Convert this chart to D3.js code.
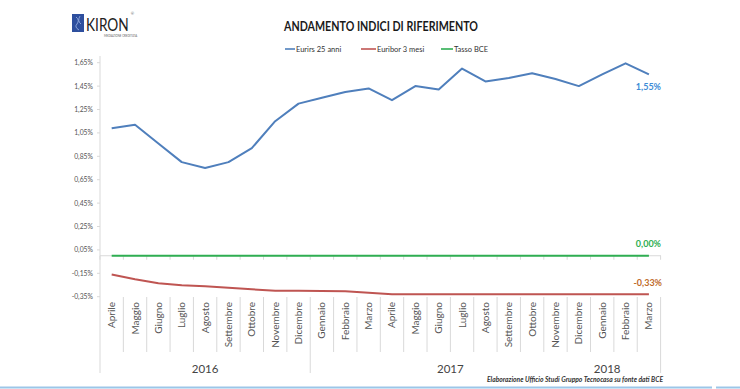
<!DOCTYPE html>
<html><head><meta charset="utf-8">
<script src="https://cdn.jsdelivr.net/npm/d3@7"></script>
<style>body{margin:0;background:#fff}svg{display:block}text{font-family:Lato,"Open Sans",sans-serif}</style>
</head><body><svg id="c" width="740" height="389"></svg>
<script>
const months = ["Aprile","Maggio","Giugno","Luglio","Agosto","Settembre","Ottobre","Novembre","Dicembre","Gennaio","Febbraio","Marzo","Aprile","Maggio","Giugno","Luglio","Agosto","Settembre","Ottobre","Novembre","Dicembre","Gennaio","Febbraio","Marzo"];
const years = ["2016","2017","2018"];
const yearCounts = [9,12,3];
const eurirs = [1.09,1.12,0.96,0.80,0.75,0.80,0.92,1.15,1.30,1.35,1.40,1.43,1.33,1.45,1.42,1.60,1.49,1.52,1.56,1.51,1.45,1.55,1.645,1.55];
const euribor = [-0.16,-0.20,-0.235,-0.253,-0.261,-0.273,-0.287,-0.299,-0.299,-0.301,-0.304,-0.316,-0.33,-0.33,-0.33,-0.33,-0.33,-0.33,-0.33,-0.33,-0.33,-0.33,-0.33,-0.33];
const bce = [0,0,0,0,0,0,0,0,0,0,0,0,0,0,0,0,0,0,0,0,0,0,0,0];
const yTicks = [-0.35,-0.15,0.05,0.25,0.45,0.65,0.85,1.05,1.25,1.45,1.65];
const seriesNames = ["Eurirs 25 anni","Euribor 3 mesi","Tasso BCE"];
const endLabels = ["1,55%","-0,33%","0,00%"];

const svg = d3.select("#c");
const idx = d3.range(months.length);
const x = d3.scaleBand().domain(idx).range([100, 660.6]).padding(0);
const cx = i => x(i) + x.bandwidth()/2;
const y = d3.scaleLinear().domain([-0.35,1.65]).range([296.7,62.7]);
const fmt = v => v.toFixed(2).replace(".",",") + "%";
const grey = "#d9d9d9";

// logo
const logo = svg.append("g");
logo.append("rect").attr("x",72).attr("y",14).attr("width",12).attr("height",18).attr("fill","#2e4f9e");
logo.append("path").attr("d","M76,17 q4,3 1,7 q-3,3 2,6 M80,16 q-3,5 1,8").attr("stroke","#9fb6e6").attr("fill","none").attr("stroke-width",0.8);
const kt = logo.append("text").attr("transform","translate(86,31) scale(0.76,1)").attr("font-size",18).attr("fill","#222")
  .attr("font-family","'DejaVu Sans',sans-serif").text("KIRON");
const kw = kt.node().getComputedTextLength()*0.76;
logo.append("text").attr("x",86+kw+2).attr("y",15).attr("font-size",4).attr("fill","#555").text("®");
logo.append("text").attr("x",104).attr("y",36.5).attr("font-size",2.8).attr("fill","#666").text("MEDIAZIONE CREDITIZIA");

// title
svg.append("text").attr("x",284).attr("y",31).attr("font-size",13.5).attr("font-weight",700).attr("fill","#1a1a1a")
  .attr("textLength",194).attr("lengthAdjust","spacingAndGlyphs").text("ANDAMENTO INDICI DI RIFERIMENTO");

// legend
const colors = ["#4f7fbc","#bf5552","#2fae52"];
const legX = [[285,295],[361,376],[441,453]];
legX.forEach((p,k)=>{
  svg.append("line").attr("x1",p[0]).attr("x2",p[1]).attr("y1",49).attr("y2",49).attr("stroke",colors[k]).attr("stroke-width",1.6);
  svg.append("text").attr("x",p[1]+1).attr("y",51.5).attr("font-size",7.5).attr("fill","#333").text(seriesNames[k]);
});

// y axis
svg.append("line").attr("x1",100).attr("x2",100).attr("y1",56).attr("y2",373).attr("stroke",grey);
yTicks.forEach(t=>{
  svg.append("line").attr("x1",97).attr("x2",100).attr("y1",y(t)).attr("y2",y(t)).attr("stroke",grey);
  svg.append("text").attr("x",93).attr("y",y(t)+2.5).attr("text-anchor","end").attr("font-size",6.8).attr("fill","#555").text(fmt(t));
});

// category axis at 0
svg.append("line").attr("x1",100).attr("x2",661).attr("y1",y(0)).attr("y2",y(0)).attr("stroke",grey);
d3.range(months.length+1).forEach(i=>{
  const bx = 100 + i*x.bandwidth();
  svg.append("line").attr("x1",bx).attr("x2",bx).attr("y1",y(0)).attr("y2",y(0)+4).attr("stroke",grey);
  if(i>0){
    const tall = (i===yearCounts[0] || i===months.length);
    svg.append("line").attr("x1",bx).attr("x2",bx).attr("y1",297).attr("y2",tall?373:352).attr("stroke",grey);
  }
});
months.forEach((m,i)=>{
  svg.append("text").attr("transform",`translate(${cx(i)+3.5},302) rotate(-90)`).attr("text-anchor","end")
    .attr("font-size",10).attr("fill","#555").text(m);
});
let start = 0;
years.forEach((yr,k)=>{
  const a = start, b = start + yearCounts[k] - 1;
  let px = (cx(a)+cx(b))/2;
  if(k===2) px = cx(a)+5;
  svg.append("text").attr("x",px).attr("y",373).attr("text-anchor","middle").attr("font-size",11.5).attr("fill","#444").text(yr);
  start += yearCounts[k];
});

// lines
const line = d3.line().x((d,i)=>cx(i)).y(d=>y(d));
[eurirs, euribor, bce].forEach((s,k)=>{
  svg.append("path").datum(s).attr("d",line).attr("fill","none").attr("stroke",colors[k]).attr("stroke-width",k===2?2.2:2).attr("stroke-linejoin","round");
});

// end labels
const last = months.length-1;
svg.append("text").attr("x",661).attr("y",y(eurirs[last])+16).attr("text-anchor","end").attr("font-size",9).attr("font-weight",700).attr("fill","#3d8bd6").text(endLabels[0]);
svg.append("text").attr("x",662).attr("y",y(euribor[last])-8).attr("text-anchor","end").attr("font-size",9).attr("font-weight",700).attr("fill","#c06a2a").text(endLabels[1]);
svg.append("text").attr("x",661).attr("y",y(bce[last])-9).attr("text-anchor","end").attr("font-size",9).attr("font-weight",700).attr("fill","#2fae52").text(endLabels[2]);

// source
svg.append("text").attr("x",487).attr("y",381.5).attr("font-size",6.5).attr("font-weight",700).attr("font-style","italic").attr("fill","#333")
  .attr("textLength",176).attr("lengthAdjust","spacingAndGlyphs").text("Elaborazione Ufficio Studi Gruppo Tecnocasa su fonte dati BCE");

// bottom rule
svg.append("line").attr("x1",0).attr("x2",712).attr("y1",387.5).attr("y2",387.5).attr("stroke","#9cc6e8").attr("stroke-width",2);
svg.append("line").attr("x1",716).attr("x2",740).attr("y1",387.5).attr("y2",387.5).attr("stroke","#9cc6e8").attr("stroke-width",2);
</script></body></html>
